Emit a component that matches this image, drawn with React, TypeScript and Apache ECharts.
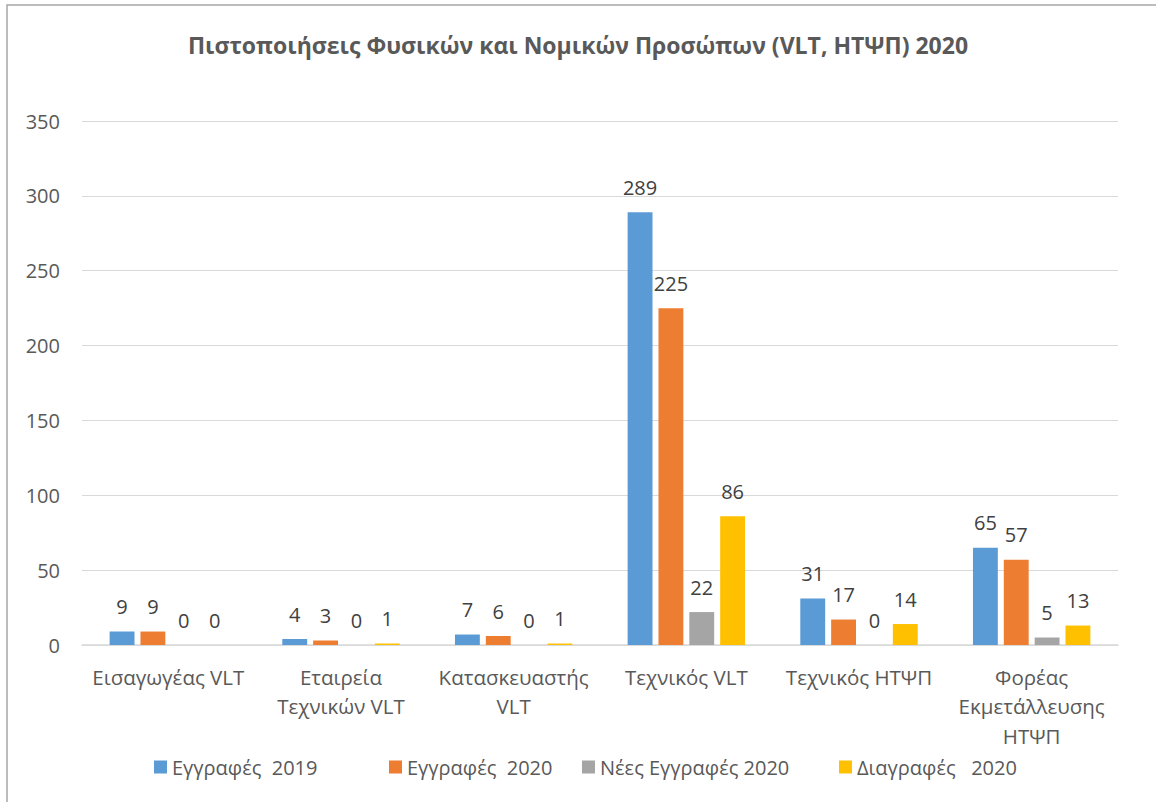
import React, { useEffect, useRef } from "react";
import * as echarts from "echarts";

const categories = [
  "Εισαγωγέας VLT",
  "Εταιρεία\nΤεχνικών VLT",
  "Κατασκευαστής\nVLT",
  "Τεχνικός VLT",
  "Τεχνικός ΗΤΨΠ",
  "Φορέας\nΕκμετάλλευσης\nΗΤΨΠ",
];
const seriesNames = ["Εγγραφές  2019", "Εγγραφές  2020", "Νέες Εγγραφές 2020", "Διαγραφές   2020"];
const reg2019 = [9, 4, 7, 289, 31, 65];
const reg2020 = [9, 3, 6, 225, 17, 57];
const new2020 = [0, 0, 0, 22, 0, 5];
const del2020 = [0, 1, 1, 86, 14, 13];
const colors = ["#5b9bd5", "#ed7d31", "#a5a5a5", "#ffc000"];
const titleText = "Πιστοποιήσεις Φυσικών και Νομικών Προσώπων (VLT, ΗΤΨΠ) 2020";
const legendLefts = [149, 384, 577, 834];

export default function App() {
  const ref = useRef<HTMLDivElement>(null);
  useEffect(() => {
    if (!ref.current) return;
    const chart = echarts.init(ref.current, null, { renderer: "svg" });
    const font = "'Open Sans', 'Noto Sans', sans-serif";
    const data = [reg2019, reg2020, new2020, del2020];
    chart.setOption({
      animation: false,
      backgroundColor: "#ffffff",
      textStyle: { fontFamily: font },
      title: {
        text: titleText,
        left: "center",
        top: 28,
        textStyle: { fontFamily: font, fontSize: 23, fontWeight: "bold", color: "#595959" },
      },
      graphic: [
        {
          type: "rect",
          shape: { x: 7, y: 5, width: 1170, height: 820 },
          style: { fill: "none", stroke: "#a6a6a6", lineWidth: 1.5 },
          silent: true,
        },
      ],
      legend: seriesNames.map((name, i) => ({
        bottom: 20,
        left: legendLefts[i],
        itemWidth: 13,
        itemHeight: 13,
        icon: "rect",
        textStyle: { fontFamily: font, fontSize: 20, color: "#595959" },
        data: [name],
      })),
      grid: { left: 82, right: 38, top: 121, bottom: 157 },
      xAxis: {
        type: "category",
        data: categories,
        axisLine: { lineStyle: { color: "#d9d9d9", width: 1.5 } },
        axisTick: { show: false },
        axisLabel: {
          fontFamily: font,
          fontSize: 20.5,
          color: "#595959",
          lineHeight: 29.5,
          margin: 17,
          interval: 0,
        },
      },
      yAxis: {
        type: "value",
        min: 0,
        max: 350,
        interval: 50,
        axisLine: { show: false },
        axisTick: { show: false },
        splitLine: { lineStyle: { color: "#d9d9d9", width: 1 } },
        axisLabel: { fontFamily: font, fontSize: 20, color: "#595959", margin: 22 },
      },
      series: seriesNames.map((name, i) => ({
        name,
        type: "bar",
        data: data[i],
        itemStyle: { color: colors[i] },
        barGap: "24%",
        barCategoryGap: "32%",
        label: {
          show: true,
          position: "top",
          distance: 15,
          fontFamily: font,
          fontSize: 20,
          color: "#404040",
        },
      })),
    });
    return () => chart.dispose();
  }, []);
  return (
    <div
      ref={ref}
      style={{ position: "fixed", left: 0, top: 0, width: 1156, height: 802 }}
    />
  );
}
